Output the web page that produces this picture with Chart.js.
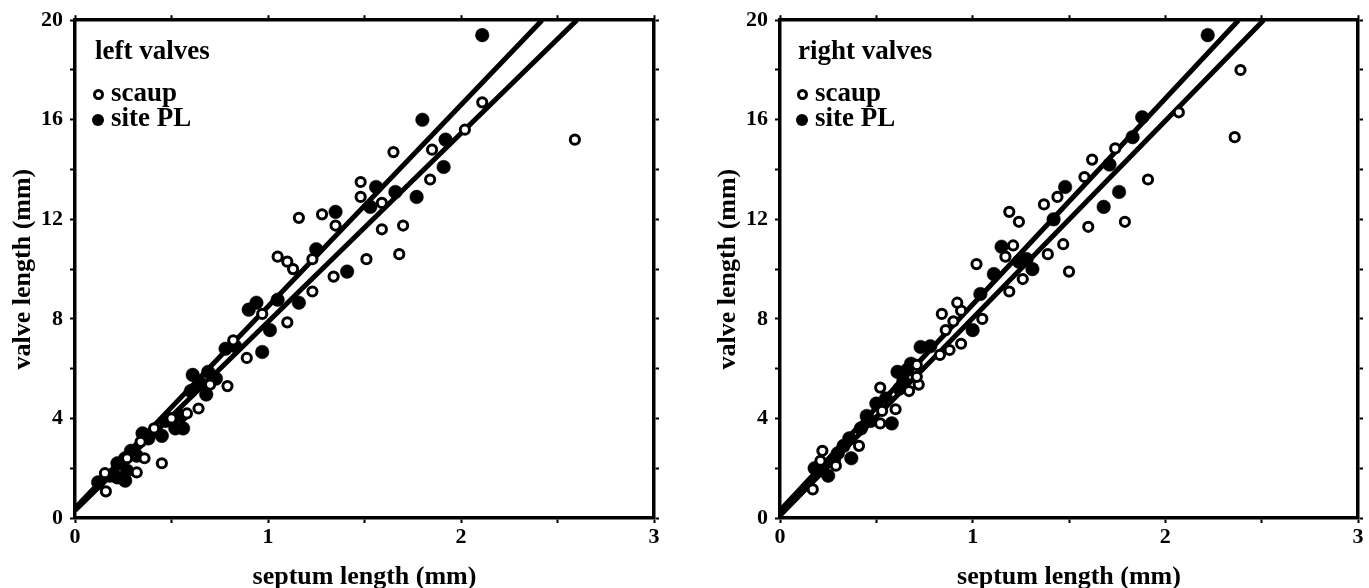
<!DOCTYPE html>
<html>
<head>
<meta charset="utf-8">
<script src="https://cdn.jsdelivr.net/npm/chart.js@4.4.1/dist/chart.umd.min.js"></script>
<style>
  body { margin: 0; background: #fff; }
  #wrap { position: relative; width: 1369px; height: 588px; overflow: hidden; }
  .panel { position: absolute; top: 0; height: 588px; }
  .lbl { position: absolute; font-family: "Liberation Serif", serif; font-weight: bold;
         font-size: 27px; line-height: 27px; color: #000; white-space: nowrap; }
  .mk { position: absolute; border-radius: 50%; box-sizing: border-box; }
  .mk.open { width: 11px; height: 11px; border: 3px solid #000; background: #fff; }
  .mk.fill { width: 12px; height: 12px; background: #000; }
</style>
</head>
<body>
<div id="wrap">
  <div class="panel" style="left:0;width:684px"><canvas id="leftChart" width="684" height="588"></canvas></div>
  <div class="panel" style="left:684px;width:685px"><canvas id="rightChart" width="685" height="588"></canvas></div>

  <div class="lbl" style="left:95px;top:37px">left valves</div>
  <span class="mk open" style="left:93px;top:89px"></span>
  <div class="lbl" style="left:111px;top:79px">scaup</div>
  <span class="mk fill" style="left:92px;top:114px"></span>
  <div class="lbl" style="left:111px;top:104px">site PL</div>

  <div class="lbl" style="left:798px;top:37px">right valves</div>
  <span class="mk open" style="left:797px;top:89px"></span>
  <div class="lbl" style="left:815px;top:79px">scaup</div>
  <span class="mk fill" style="left:796px;top:114px"></span>
  <div class="lbl" style="left:815px;top:104px">site PL</div>
</div>
<script>
// septum length (mm), valve length (mm)
const leftScaup = [
  [0.16,1.07],[0.155,1.8],[0.32,1.83],[0.36,2.4],[0.45,2.2],[0.27,2.4],[0.34,3.06],[0.41,3.6],
  [0.5,4.0],[0.58,4.2],[0.64,4.4],[0.70,5.36],[0.79,5.3],[0.89,6.43],[0.82,7.14],[0.97,8.2],
  [1.10,7.86],[1.23,9.1],[1.34,9.7],[1.05,10.5],[1.10,10.3],[1.13,10.0],[1.23,10.4],[1.51,10.4],
  [1.68,10.6],[1.59,11.6],[1.70,11.75],[1.35,11.75],[1.16,12.06],[1.28,12.2],[1.59,12.66],
  [1.48,12.9],[1.48,13.5],[1.84,13.6],[1.65,14.7],[1.85,14.8],[2.02,15.6],[2.11,16.7],[2.59,15.2]
];
const leftSitePL = [
  [0.12,1.43],[0.18,1.7],[0.22,1.63],[0.26,1.5],[0.22,2.2],[0.27,1.9],[0.26,2.4],[0.29,2.7],
  [0.32,2.5],[0.35,3.4],[0.38,3.2],[0.42,3.5],[0.45,3.3],[0.47,3.9],[0.50,3.97],[0.52,3.6],
  [0.56,3.6],[0.55,4.1],[0.60,5.1],[0.65,5.4],[0.68,4.96],[0.61,5.75],[0.69,5.87],[0.73,5.6],
  [0.78,6.8],[0.83,6.9],[0.97,6.67],[0.90,8.37],[0.94,8.65],[1.01,7.55],[1.05,8.77],[1.16,8.65],
  [1.25,10.8],[1.41,9.9],[1.35,12.3],[1.53,12.5],[1.56,13.3],[1.66,13.1],[1.77,12.9],[1.91,14.1],
  [1.92,15.2],[1.80,16.0],[2.11,19.4]
];
const rightScaup = [
  [0.17,1.15],[0.21,2.3],[0.22,2.7],[0.29,2.1],[0.41,2.9],[0.52,3.8],[0.53,4.3],[0.60,4.37],
  [0.52,5.24],[0.67,5.1],[0.72,5.36],[0.71,5.67],[0.71,6.15],[0.83,6.55],[0.88,6.75],[0.94,7.0],
  [0.86,7.55],[0.90,7.9],[1.05,8.0],[0.84,8.2],[0.94,8.33],[0.92,8.65],[1.19,9.1],[1.26,9.6],
  [1.02,10.2],[1.17,10.5],[1.21,10.95],[1.39,10.6],[1.50,9.9],[1.47,11.0],[1.60,11.7],[1.79,11.9],
  [1.24,11.9],[1.19,12.3],[1.37,12.6],[1.44,12.9],[1.58,13.7],[1.91,13.6],[1.62,14.4],[1.74,14.85],
  [2.07,16.3],[2.36,15.3],[2.39,18.0]
];
const rightSitePL = [
  [0.18,2.0],[0.22,1.95],[0.25,1.7],[0.28,2.3],[0.30,2.6],[0.33,2.9],[0.36,3.2],[0.37,2.4],
  [0.42,3.6],[0.45,4.1],[0.47,3.9],[0.50,4.6],[0.55,4.8],[0.58,3.8],[0.62,5.2],[0.61,5.87],
  [0.64,5.5],[0.66,5.95],[0.68,6.2],[0.73,6.87],[0.78,6.9],[1.0,7.55],[1.04,9.0],[1.11,9.8],
  [1.15,10.9],[1.24,10.3],[1.28,10.4],[1.31,10.0],[1.42,12.0],[1.48,13.3],[1.68,12.5],[1.76,13.1],
  [1.71,14.2],[1.83,15.3],[1.88,16.1],[2.22,19.4]
];
// regression line end points
const leftLineA = [[0,0.4],[2.42,20]];
const leftLineB = [[0,0.3],[2.60,20]];
const rightLineA = [[0,0.3],[2.38,20]];
const rightLineB = [[0,0.1],[2.51,20]];

const xTicks = [0, 1, 2, 3];
const yTicks = [0, 4, 8, 12, 16, 20];

const FONT = '"Liberation Serif", "Times New Roman", serif';

function toPoints(arr) {
  return arr.map(p => ({ x: p[0], y: p[1] }));
}

function lineSet(arr) {
  return {
    type: 'line', data: toPoints(arr), borderColor: '#000', borderWidth: 5,
    pointRadius: 0, fill: false, showLine: true
  };
}

function axisBase(extra) {
  return Object.assign({
    type: 'linear',
    border: { display: true, color: '#000', width: 3.5 },
    grid: { drawOnChartArea: false, drawTicks: true, tickLength: 5, tickColor: '#000', tickWidth: 2 }
  }, extra);
}

function makeChart(id, scaup, sitePL, lineA, lineB, padLeft, rightWidth) {
  const ctx = document.getElementById(id).getContext('2d');
  new Chart(ctx, {
    type: 'scatter',
    data: {
      datasets: [
        { label: 'scaup', data: toPoints(scaup), pointRadius: 4.6, borderWidth: 3,
          borderColor: '#000', backgroundColor: '#fff' },
        { label: 'site PL', data: toPoints(sitePL), pointRadius: 6.8, borderWidth: 0.5,
          borderColor: '#000', backgroundColor: '#000' },
        lineSet(lineA),
        lineSet(lineB)
      ]
    },
    options: {
      responsive: false,
      animation: false,
      layout: { padding: { left: padLeft, top: 0, right: 0, bottom: 0 } },
      plugins: { legend: { display: false }, tooltip: { enabled: false } },
      scales: {
        x: axisBase({
          position: 'bottom', min: 0, max: 3,
          afterFit: s => { s.height = 70; },
          afterBuildTicks: s => { s.ticks = [0, 0.5, 1, 1.5, 2, 2.5, 3].map(v => ({ value: v })); },
          ticks: {
            autoSkip: false, maxRotation: 0, padding: 1, color: '#000',
            font: { family: FONT, size: 22, weight: 'bold' },
            callback: v => xTicks.includes(v) ? String(v) : ''
          },
          title: {
            display: true, text: 'septum length (mm)', color: '#000',
            font: { family: FONT, size: 26, weight: 'bold', lineHeight: 0.8 },
            padding: { top: 0, bottom: 0 }
          }
        }),
        y: axisBase({
          position: 'left', min: 0, max: 20,
          afterFit: s => { s.width = 75; },
          afterBuildTicks: s => { s.ticks = [0, 2, 4, 6, 8, 10, 12, 14, 16, 18, 20].map(v => ({ value: v })); },
          ticks: {
            autoSkip: false, padding: 7, color: '#000',
            font: { family: FONT, size: 22, weight: 'bold' },
            callback: v => yTicks.includes(v) ? String(v) : ''
          },
          title: {
            display: true, text: 'valve length (mm)', color: '#000',
            font: { family: FONT, size: 26, weight: 'bold', lineHeight: 1 },
            padding: { top: 10, bottom: 0 }
          }
        }),
        x2: axisBase({
          position: 'top', min: 0, max: 3,
          afterFit: s => { s.height = 14; },
          afterBuildTicks: s => { s.ticks = [0, 0.5, 1, 1.5, 2, 2.5, 3].map(v => ({ value: v })); },
          ticks: { display: false }
        }),
        y2: axisBase({
          position: 'right', min: 0, max: 20,
          afterFit: s => { s.width = rightWidth; },
          afterBuildTicks: s => { s.ticks = [0, 2, 4, 6, 8, 10, 12, 14, 16, 18, 20].map(v => ({ value: v })); },
          ticks: { display: false }
        })
      }
    }
  });
}

document.addEventListener('DOMContentLoaded', () => {
  makeChart('leftChart', leftScaup, leftSitePL, leftLineA, leftLineB, 0, 30);
  makeChart('rightChart', rightScaup, rightSitePL, rightLineA, rightLineB, 21, 11);
});
</script>
</body>
</html>
